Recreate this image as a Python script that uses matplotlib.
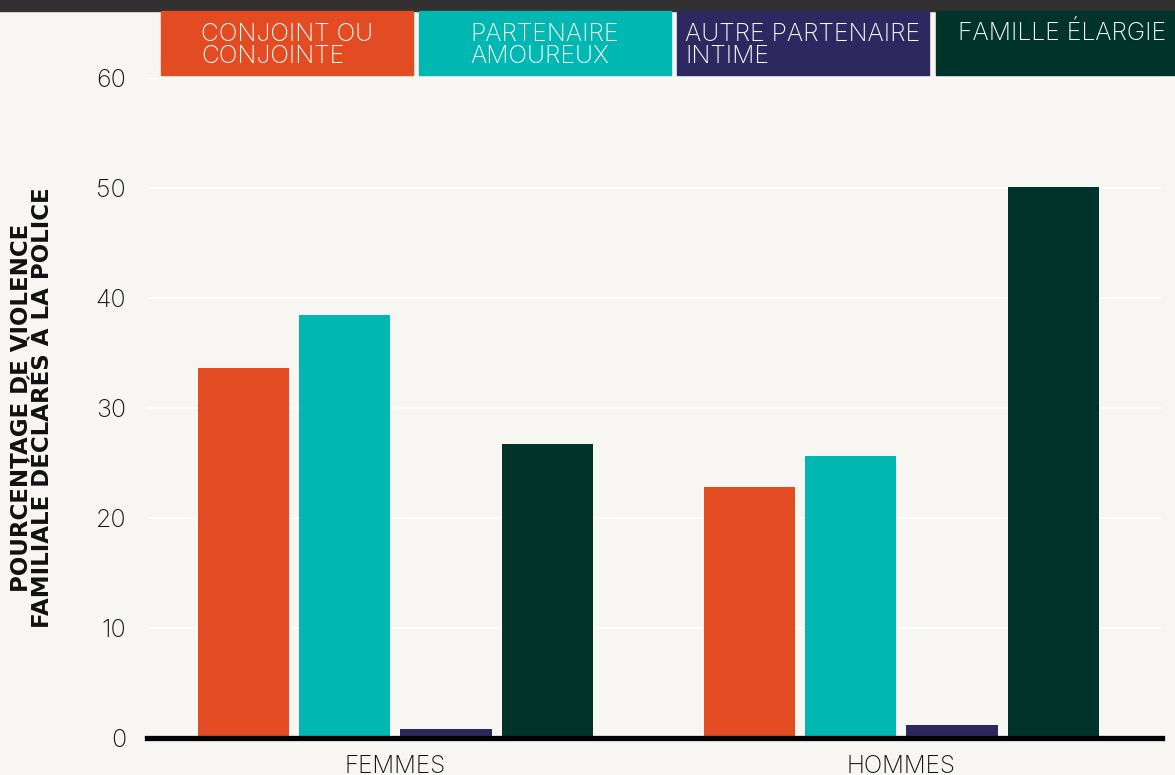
import matplotlib.pyplot as plt
from matplotlib.patches import Rectangle
import numpy as np

# Data
groups = ["FEMMES", "HOMMES"]
series = ["CONJOINT OU\nCONJOINTE", "PARTENAIRE\nAMOUREUX",
          "AUTRE PARTENAIRE\nINTIME", "FAMILLE ÉLARGIE"]
values = [
    [33.6, 22.8],   # conjoint ou conjointe
    [38.5, 25.6],   # partenaire amoureux
    [0.8, 1.2],     # autre partenaire intime
    [26.7, 50.1],   # famille élargie
]
colors = ["#E34C23", "#00B8B1", "#2D2960", "#003329"]
yticks = [0, 10, 20, 30, 40, 50, 60]

BG = "#F7F6F2"
FONT = "Inter"
W, H = 1175, 775

fig = plt.figure(figsize=(W / 100, H / 100), dpi=100, facecolor=BG)
ax = fig.add_axes([147 / W, 1 - 738 / H, (1162 - 147) / W, (738 - 78) / H])
ax.set_facecolor(BG)

x = np.arange(len(groups))
offsets = [-0.3, -0.1, 0.1, 0.3]
for vals, off, col in zip(values, offsets, colors):
    ax.bar(x + off, vals, width=0.18, color=col, zorder=3)

ax.set_xlim(-0.491, 1.515)
ax.set_ylim(0, 60)
ax.set_yticks(yticks)
ax.set_yticklabels([str(t) for t in yticks], fontsize=18, family=FONT,
                   fontweight="light")
ax.set_xticks(x)
ax.set_xticklabels(groups, fontsize=17.5, family=FONT, fontweight="light")
ax.tick_params(axis="both", length=0, colors="#111111")
ax.tick_params(axis="y", pad=15)
ax.tick_params(axis="x", pad=12)
ax.grid(axis="y", color="white", lw=1.2, zorder=0)
for s in ["top", "right", "left"]:
    ax.spines[s].set_visible(False)
ax.spines["bottom"].set_linewidth(3.8)
ax.spines["bottom"].set_color("black")
ax.spines["bottom"].set_zorder(4)

fig.text(32 / W, 1 - 408 / H,
         "POURCENTAGE DE VIOLENCE\nFAMILIALE DÉCLARÉS À LA POLICE",
         rotation=90, fontsize=16.5, fontweight="bold", family="DejaVu Sans",
         linespacing=0.92, ha="center", va="center", color="#111111")

# top dark band
fig.patches.append(Rectangle((0, 1 - 11 / H), 1, 11 / H, transform=fig.transFigure,
                             color="#323031", zorder=0))

# legend boxes
box_left = [161, 419, 677, 936]
box_w = 252
for left, lab, col in zip(box_left, series, colors):
    fig.patches.append(Rectangle((left / W, 1 - 75 / H), box_w / W, 64 / H,
                                 transform=fig.transFigure, color=col, zorder=1))
    nlines = lab.count("\n") + 1
    fig.text((left + box_w / 2) / W, 1 - (40 + 23 * (nlines - 1)) / H, lab,
             color="white", fontsize=17.8, family=FONT, fontweight="light",
             ha="center", va="baseline", multialignment="left",
             linespacing=0.92)

fig.savefig("out.png", dpi=100, facecolor=BG)
